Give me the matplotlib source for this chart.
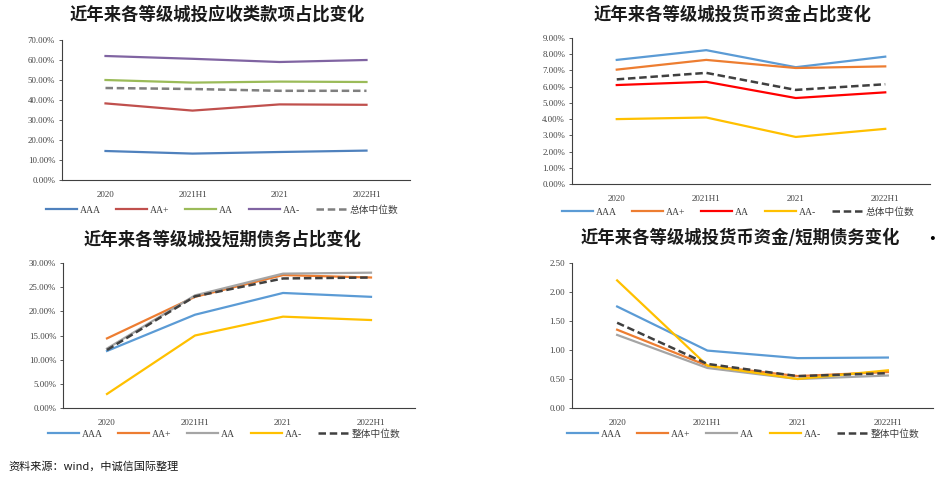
import matplotlib.pyplot as plt

plt.rcParams['font.family'] = ['Liberation Serif', 'Noto Sans CJK SC', 'DejaVu Sans']

periods = ['2020', '2021H1', '2021', '2022H1']
grades = ['AAA', 'AA+', 'AA', 'AA-']

# 应收类款项占比 (%)
recv_aaa = [14.5, 13.2, 14.0, 14.7]
recv_aap = [38.3, 34.7, 37.8, 37.6]
recv_aa = [50.0, 48.7, 49.2, 49.0]
recv_aam = [62.0, 60.6, 59.0, 60.0]
recv_med = [46.0, 45.5, 44.6, 44.6]

# 货币资金占比 (%)
cash_aaa = [7.65, 8.25, 7.20, 7.85]
cash_aap = [7.05, 7.65, 7.15, 7.25]
cash_aa = [6.10, 6.30, 5.30, 5.65]
cash_aam = [4.00, 4.10, 2.90, 3.40]
cash_med = [6.45, 6.85, 5.80, 6.15]

# 短期债务占比 (%)
debt_aaa = [11.8, 19.3, 23.8, 23.0]
debt_aap = [14.4, 23.0, 27.5, 27.0]
debt_aa = [12.3, 23.3, 27.8, 28.0]
debt_aam = [2.9, 15.0, 18.9, 18.2]
debt_med = [12.0, 23.1, 26.8, 27.0]

# 货币资金/短期债务
ratio_aaa = [1.75, 0.99, 0.86, 0.87]
ratio_aap = [1.35, 0.73, 0.55, 0.62]
ratio_aa = [1.26, 0.69, 0.50, 0.56]
ratio_aam = [2.20, 0.73, 0.50, 0.65]
ratio_med = [1.47, 0.76, 0.55, 0.60]

W, H = 936, 494
fig = plt.figure(figsize=(W / 100, H / 100), dpi=100)


def rect(l, t, r, b):
    return [l / W, 1 - b / H, (r - l) / W, (b - t) / H]


def panel(box, series, colors, med_label, med_color, ylim, step, fmt, title, title_xy, leg_xy):
    ax = fig.add_axes(rect(*box))
    x = range(len(periods))
    for vals, name, c in zip(series[:4], grades, colors):
        ax.plot(x, vals, color=c, lw=1.6, label=name)
    ax.plot(x, series[4], color=med_color, lw=1.8, ls=(0, (3, 1.5)), label=med_label)
    ax.set_xlim(-0.5, 3.5)
    ax.set_ylim(*ylim)
    ticks = [ylim[0] + i * step for i in range(int(round((ylim[1] - ylim[0]) / step)) + 1)]
    ax.set_yticks(ticks)
    ax.set_yticklabels([fmt.format(t) for t in ticks])
    ax.set_xticks(list(x))
    ax.set_xticklabels(periods)
    for s in ['top', 'right']:
        ax.spines[s].set_visible(False)
    for s in ['left', 'bottom']:
        ax.spines[s].set_color('#404040')
        ax.spines[s].set_linewidth(0.8)
    ax.tick_params(axis='y', labelsize=6.3, colors='#404040', length=2, width=0.6, pad=3)
    ax.tick_params(axis='x', labelsize=6.5, colors='#404040', length=0, pad=8)
    fig.text(title_xy[0] / W, 1 - title_xy[1] / H, title, ha='center', va='center',
             fontsize=12.5, fontweight='bold', color='#1a1a1a', family=['Noto Sans CJK SC'])
    b = rect(*box)
    lx = (leg_xy[0] / W - b[0]) / b[2]
    ly = (1 - leg_xy[1] / H - b[1]) / b[3]
    leg = ax.legend(loc='center', bbox_to_anchor=(lx, ly),
                    ncol=5, frameon=False, fontsize=7, handlelength=3.2, columnspacing=1.6,
                    handletextpad=0.3)
    for t in leg.get_texts():
        t.set_color('#404040')
    return ax


panel((62, 40, 410, 180), [recv_aaa, recv_aap, recv_aa, recv_aam, recv_med],
      ['#4f81bd', '#c0504d', '#9bbb59', '#8064a2'], '总体中位数', '#7f7f7f',
      (0, 70), 10, '{:.2f}%', '近年来各等级城投应收类款项占比变化', (217, 15), (222, 210))

panel((572, 38, 930, 184), [cash_aaa, cash_aap, cash_aa, cash_aam, cash_med],
      ['#5b9bd5', '#ed7d31', '#ff0000', '#ffc000'], '总体中位数', '#404040',
      (0, 9), 1, '{:.2f}%', '近年来各等级城投货币资金占比变化', (733, 15), (738, 212))

panel((63, 263, 415, 408), [debt_aaa, debt_aap, debt_aa, debt_aam, debt_med],
      ['#5b9bd5', '#ed7d31', '#a5a5a5', '#ffc000'], '整体中位数', '#404040',
      (0, 30), 5, '{:.2f}%', '近年来各等级城投短期债务占比变化', (223, 240), (224, 434))

panel((572, 263, 933, 408), [ratio_aaa, ratio_aap, ratio_aa, ratio_aam, ratio_med],
      ['#5b9bd5', '#ed7d31', '#a5a5a5', '#ffc000'], '整体中位数', '#404040',
      (0, 2.5), 0.5, '{:.2f}', '近年来各等级城投货币资金/短期债务变化', (740, 238), (743, 434))

fig.text(932 / W, 1 - 240 / H, '•', ha='center', va='center', fontsize=12, color='black')
fig.text(8 / W, 1 - 466 / H, '资料来源：wind，中诚信国际整理', ha='left', va='center',
         fontsize=8, color='#1a1a1a', family=['Noto Sans CJK SC', 'Liberation Serif'])

fig.savefig('out.png', dpi=100, facecolor='white')
